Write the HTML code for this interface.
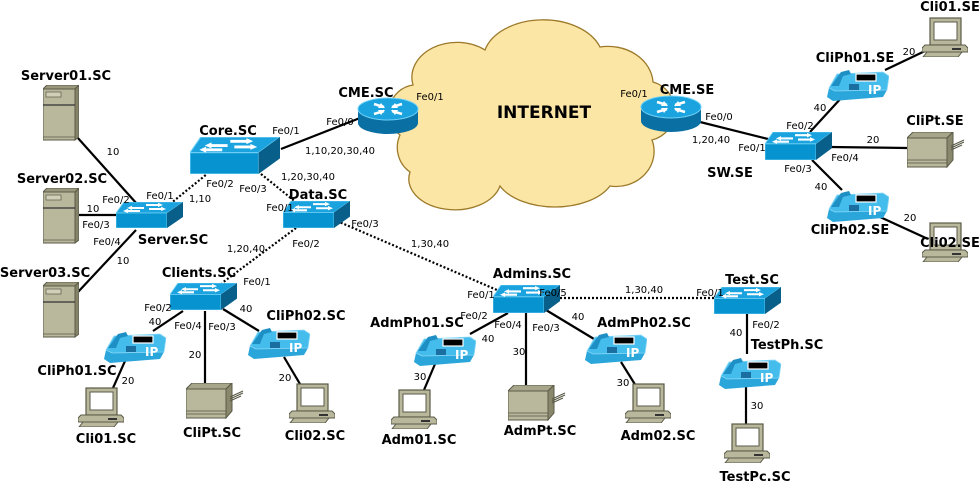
<!DOCTYPE html>
<html><head><meta charset="utf-8"><style>
html,body{margin:0;padding:0;background:#fff;}
svg{display:block;}
text{font-family:"DejaVu Sans","Liberation Sans",sans-serif;fill:#000;}
.b{font-weight:bold;font-size:13px;text-anchor:middle;}
.s{font-size:10px;text-anchor:middle;}
.l{stroke:#000;stroke-width:2.2;fill:none;}
.d{stroke:#000;stroke-width:2.2;fill:none;stroke-dasharray:2 2;}
</style></head><body>
<svg width="980" height="483" viewBox="0 0 980 483" xmlns="http://www.w3.org/2000/svg">
<defs>
<symbol id="sw" viewBox="0 0 67 26" preserveAspectRatio="none">
<polygon points="8,0 67,0 51,11 0,11" fill="#1ba3df" stroke="#6fd0f5" stroke-width="0.8"/>
<rect x="0" y="11" width="51" height="15" fill="#0793cf" stroke="#6fd0f5" stroke-width="0.8"/>
<polygon points="51,11 67,0 67,15 51,26" fill="#075f8a"/>
<g fill="#fff"><polygon points="30,2 42,2 42,0.8 47,3 42,5 42,4 30,4"/><polygon points="28,5 16,5 16,3.8 11,6 16,8 16,7 28,7"/><polygon points="33,6 45,6 45,4.8 50,7 45,9 45,8 33,8"/><polygon points="24,8 12,8 12,6.8 7,9 12,11 12,10 24,10"/></g>
</symbol>
<symbol id="rt" viewBox="0 0 62 38">
<path d="M1,12 L1,26 A30,11 0 0 0 61,26 L61,12 Z" fill="#0a70a4"/>
<ellipse cx="31" cy="12" rx="30" ry="11" fill="#1ba3df" stroke="#6fd0f5" stroke-width="1"/>
<g stroke="#fff" stroke-width="2.5" fill="none"><path d="M17,7 L27,10 M45,17 L35,14 M45,7 L35,10 M17,17 L27,14"/></g>
<g fill="#fff"><polygon points="24,6 28,11 21,11"/><polygon points="38,18 34,13 41,13"/><polygon points="38,6 34,11 41,11"/><polygon points="24,18 28,13 21,13"/></g>
</symbol>
<symbol id="ph" viewBox="0 0 62 37">
<path d="M2,24 L10,10 L56,8 L62,12 L60,26 L56,33 L6,37 L0,33 Z" fill="#2aa6da"/>
<path d="M10,10 L56,8 L62,12 L60,26 L8,27 L2,24 Z" fill="#45bdec" stroke="#8ad8f7" stroke-width="0.8"/>
<path d="M4,22 L14,8 L22,6 L24,10 L16,12 L12,22 Z" fill="#1e8fc4"/>
<rect x="29" y="10" width="20" height="7" fill="#000" stroke="#fff" stroke-width="1.2"/>
<text x="41" y="30" style="font-size:12px;font-weight:bold;fill:#fff;font-family:'DejaVu Sans',sans-serif">IP</text>
<g fill="#1b6fa0"><rect x="22" y="20" width="10" height="6"/></g>
</symbol>
<symbol id="pc" viewBox="0 0 46 40">
<rect x="8" y="1" width="31" height="27" fill="#bab89c" stroke="#5a5a48" stroke-width="1.2"/>
<rect x="12" y="5" width="23" height="18" fill="#fff" stroke="#5a5a48"/>
<polygon points="3,28 43,28 46,31 46,35 0,35 0,31" fill="#bab89c" stroke="#5a5a48"/>
<rect x="30" y="31" width="9" height="2" fill="#333"/>
<polygon points="5,35 40,35 36,40 1,40" fill="#bab89c" stroke="#5a5a48"/>
</symbol>
<symbol id="pr" viewBox="0 0 58 36">
<polygon points="0,6 6,0 46,0 40,6" fill="#a8a68a" stroke="#5a5a48"/>
<rect x="0" y="6" width="40" height="29" fill="#bab89c" stroke="#5a5a48"/>
<polygon points="40,6 46,0 46,28 40,35" fill="#8a886c" stroke="#5a5a48"/>
<rect x="0" y="28" width="40" height="3" fill="none" stroke="#5a5a48" stroke-width="0.8"/>
<path d="M44,14 L57,8 M44,16 L57,10 M44,18 L55,13" stroke="#5a5a48" stroke-width="1.2"/>
</symbol>
<symbol id="sv" viewBox="0 0 36 56">
<polygon points="0,4 4,0 36,0 32,4" fill="#9a987c" stroke="#5a5a48"/>
<rect x="0" y="4" width="32" height="51" fill="#bab89c" stroke="#5a5a48"/>
<polygon points="32,4 36,0 36,52 32,55" fill="#858368" stroke="#5a5a48"/>
<line x1="0" y1="20" x2="32" y2="20" stroke="#333" stroke-width="1.2"/>
<rect x="3" y="7" width="15" height="5" fill="#d0cfb8" stroke="#5a5a48" stroke-width="0.7"/>
<line x1="0" y1="52" x2="32" y2="52" stroke="#5a5a48" stroke-width="0.7"/>
</symbol>
</defs>

<!-- cloud -->
<path d="M413,85 A45,35 0 0 1 485,50 A60,40 0 0 1 600,47 A45,38 0 0 1 653,82 A30,30 0 0 1 652,140 A38,35 0 0 1 610,186 A60,35 0 0 1 500,186 A45,30 0 0 1 410,172 A30,30 0 0 1 400,135 A28,28 0 0 1 413,85 Z" fill="#fce6a6" stroke="#9c7a2a" stroke-width="1.3"/>
<text x="544" y="118" style="font-size:17px;font-weight:bold;text-anchor:middle">INTERNET</text>

<!-- lines -->
<g>
<line class="l" x1="77" y1="137" x2="137" y2="204"/>
<line class="l" x1="78" y1="215" x2="117" y2="215"/>
<line class="l" x1="78" y1="292" x2="136" y2="230"/>
<line class="d" x1="170" y1="204" x2="207" y2="174"/>
<line class="d" x1="261" y1="174" x2="297" y2="203"/>
<line class="l" x1="281" y1="149" x2="360" y2="118"/>
<line class="d" x1="296" y1="228" x2="222" y2="283"/>
<line class="d" x1="337" y1="221" x2="497" y2="290"/>
<line class="d" x1="560" y1="298" x2="714" y2="298"/>
<line class="l" x1="183" y1="311" x2="153" y2="331"/>
<line class="l" x1="205" y1="311" x2="205" y2="385"/>
<line class="l" x1="223" y1="309" x2="259" y2="331"/>
<line class="l" x1="125" y1="361" x2="113" y2="388"/>
<line class="l" x1="284" y1="357" x2="300" y2="384"/>
<line class="l" x1="508" y1="313" x2="470" y2="334"/>
<line class="l" x1="526" y1="313" x2="526" y2="387"/>
<line class="l" x1="546" y1="310" x2="594" y2="339"/>
<line class="l" x1="435" y1="364" x2="424" y2="390"/>
<line class="l" x1="621" y1="362" x2="636" y2="386"/>
<line class="l" x1="747" y1="314" x2="747" y2="354"/>
<line class="l" x1="746" y1="386" x2="746" y2="424"/>
<line class="l" x1="700" y1="122" x2="772" y2="140"/>
<line class="l" x1="810" y1="132" x2="843" y2="96"/>
<line class="l" x1="830" y1="147" x2="907" y2="148"/>
<line class="l" x1="812" y1="160" x2="842" y2="190"/>
<line class="l" x1="885" y1="70" x2="925" y2="51"/>
<line class="l" x1="880" y1="217" x2="928" y2="239"/>
</g>

<!-- devices -->
<use href="#sv" x="43" y="85" width="36" height="56"/>
<use href="#sv" x="43" y="188" width="36" height="56"/>
<use href="#sv" x="43" y="282" width="36" height="56"/>
<use href="#sw" x="190" y="137" width="90" height="37"/>
<use href="#sw" x="116" y="202" width="67" height="26"/>
<use href="#sw" x="283" y="201" width="67" height="27"/>
<use href="#sw" x="170" y="283" width="67" height="27"/>
<use href="#sw" x="493" y="285" width="67" height="28"/>
<use href="#sw" x="714" y="287" width="67" height="27"/>
<use href="#sw" x="765" y="132" width="67" height="28"/>
<use href="#rt" x="357" y="97" width="62" height="38"/>
<use href="#rt" x="640" y="95" width="62" height="38"/>
<use href="#ph" x="104" y="326" width="62" height="37"/>
<use href="#ph" x="248" y="322" width="62" height="37"/>
<use href="#ph" x="414" y="329" width="62" height="37"/>
<use href="#ph" x="585" y="327" width="62" height="37"/>
<use href="#ph" x="719" y="352" width="62" height="37"/>
<use href="#ph" x="827" y="64" width="62" height="37"/>
<use href="#ph" x="827" y="185" width="62" height="37"/>
<use href="#pc" x="78" y="387" width="46" height="40"/>
<use href="#pc" x="289" y="383" width="46" height="40"/>
<use href="#pc" x="391" y="389" width="46" height="40"/>
<use href="#pc" x="625" y="383" width="46" height="40"/>
<use href="#pc" x="724" y="423" width="46" height="40"/>
<use href="#pc" x="922" y="17" width="46" height="40"/>
<use href="#pc" x="922" y="222" width="46" height="40"/>
<use href="#pr" x="186" y="383" width="58" height="36"/>
<use href="#pr" x="508" y="385" width="58" height="36"/>
<use href="#pr" x="907" y="132" width="58" height="36"/>

<!-- bold labels -->
<g class="b">
<text class="b" x="66" y="80">Server01.SC</text>
<text class="b" x="62" y="183">Server02.SC</text>
<text class="b" x="45" y="277">Server03.SC</text>
<text class="b" x="173" y="244">Server.SC</text>
<text class="b" x="228" y="135">Core.SC</text>
<text class="b" x="366" y="97">CME.SC</text>
<text class="b" x="318" y="199">Data.SC</text>
<text class="b" x="199" y="277">Clients.SC</text>
<text class="b" x="77" y="375">CliPh01.SC</text>
<text class="b" x="106" y="443">Cli01.SC</text>
<text class="b" x="212" y="437">CliPt.SC</text>
<text class="b" x="306" y="320">CliPh02.SC</text>
<text class="b" x="315" y="440">Cli02.SC</text>
<text class="b" x="532" y="278">Admins.SC</text>
<text class="b" x="417" y="327">AdmPh01.SC</text>
<text class="b" x="419" y="444">Adm01.SC</text>
<text class="b" x="540" y="435">AdmPt.SC</text>
<text class="b" x="644" y="327">AdmPh02.SC</text>
<text class="b" x="658" y="440">Adm02.SC</text>
<text class="b" x="752" y="284">Test.SC</text>
<text class="b" x="787" y="349">TestPh.SC</text>
<text class="b" x="755" y="481">TestPc.SC</text>
<text class="b" x="687" y="94">CME.SE</text>
<text class="b" x="730" y="177">SW.SE</text>
<text class="b" x="855" y="62">CliPh01.SE</text>
<text class="b" x="950" y="11">Cli01.SE</text>
<text class="b" x="935" y="125">CliPt.SE</text>
<text class="b" x="850" y="234">CliPh02.SE</text>
<text class="b" x="950" y="247">Cli02.SE</text>
</g>

<!-- small labels -->
<g>
<text class="s" x="113" y="155">10</text>
<text class="s" x="93" y="212">10</text>
<text class="s" x="116" y="203">Fe0/2</text>
<text class="s" x="96" y="228">Fe0/3</text>
<text class="s" x="123" y="264">10</text>
<text class="s" x="107" y="245">Fe0/4</text>
<text class="s" x="160" y="199">Fe0/1</text>
<text class="s" x="200" y="202">1,10</text>
<text class="s" x="220" y="187">Fe0/2</text>
<text class="s" x="253" y="192">Fe0/3</text>
<text class="s" x="308" y="180">1,20,30,40</text>
<text class="s" x="280" y="211">Fe0/1</text>
<text class="s" x="286" y="134">Fe0/1</text>
<text class="s" x="340" y="125">Fe0/0</text>
<text class="s" x="340" y="154">1,10,20,30,40</text>
<text class="s" x="430" y="100">Fe0/1</text>
<text class="s" x="306" y="247">Fe0/2</text>
<text class="s" x="246" y="252">1,20,40</text>
<text class="s" x="365" y="227">Fe0/3</text>
<text class="s" x="430" y="247">1,30,40</text>
<text class="s" x="553" y="296">Fe0/5</text>
<text class="s" x="644" y="293">1,30,40</text>
<text class="s" x="710" y="296">Fe0/1</text>
<text class="s" x="481" y="298">Fe0/1</text>
<text class="s" x="257" y="285">Fe0/1</text>
<text class="s" x="158" y="311">Fe0/2</text>
<text class="s" x="155" y="325">40</text>
<text class="s" x="188" y="329">Fe0/4</text>
<text class="s" x="222" y="330">Fe0/3</text>
<text class="s" x="195" y="358">20</text>
<text class="s" x="246" y="312">40</text>
<text class="s" x="128" y="384">20</text>
<text class="s" x="285" y="381">20</text>
<text class="s" x="474" y="319">Fe0/2</text>
<text class="s" x="488" y="342">40</text>
<text class="s" x="508" y="328">Fe0/4</text>
<text class="s" x="546" y="331">Fe0/3</text>
<text class="s" x="519" y="355">30</text>
<text class="s" x="578" y="320">40</text>
<text class="s" x="420" y="380">30</text>
<text class="s" x="623" y="386">30</text>
<text class="s" x="766" y="328">Fe0/2</text>
<text class="s" x="736" y="336">40</text>
<text class="s" x="757" y="409">30</text>
<text class="s" x="634" y="97">Fe0/1</text>
<text class="s" x="719" y="120">Fe0/0</text>
<text class="s" x="711" y="143">1,20,40</text>
<text class="s" x="752" y="151">Fe0/1</text>
<text class="s" x="800" y="129">Fe0/2</text>
<text class="s" x="820" y="111">40</text>
<text class="s" x="873" y="143">20</text>
<text class="s" x="845" y="161">Fe0/4</text>
<text class="s" x="798" y="172">Fe0/3</text>
<text class="s" x="821" y="190">40</text>
<text class="s" x="909" y="55">20</text>
<text class="s" x="910" y="221">20</text>
</g>
</svg>
</body></html>
